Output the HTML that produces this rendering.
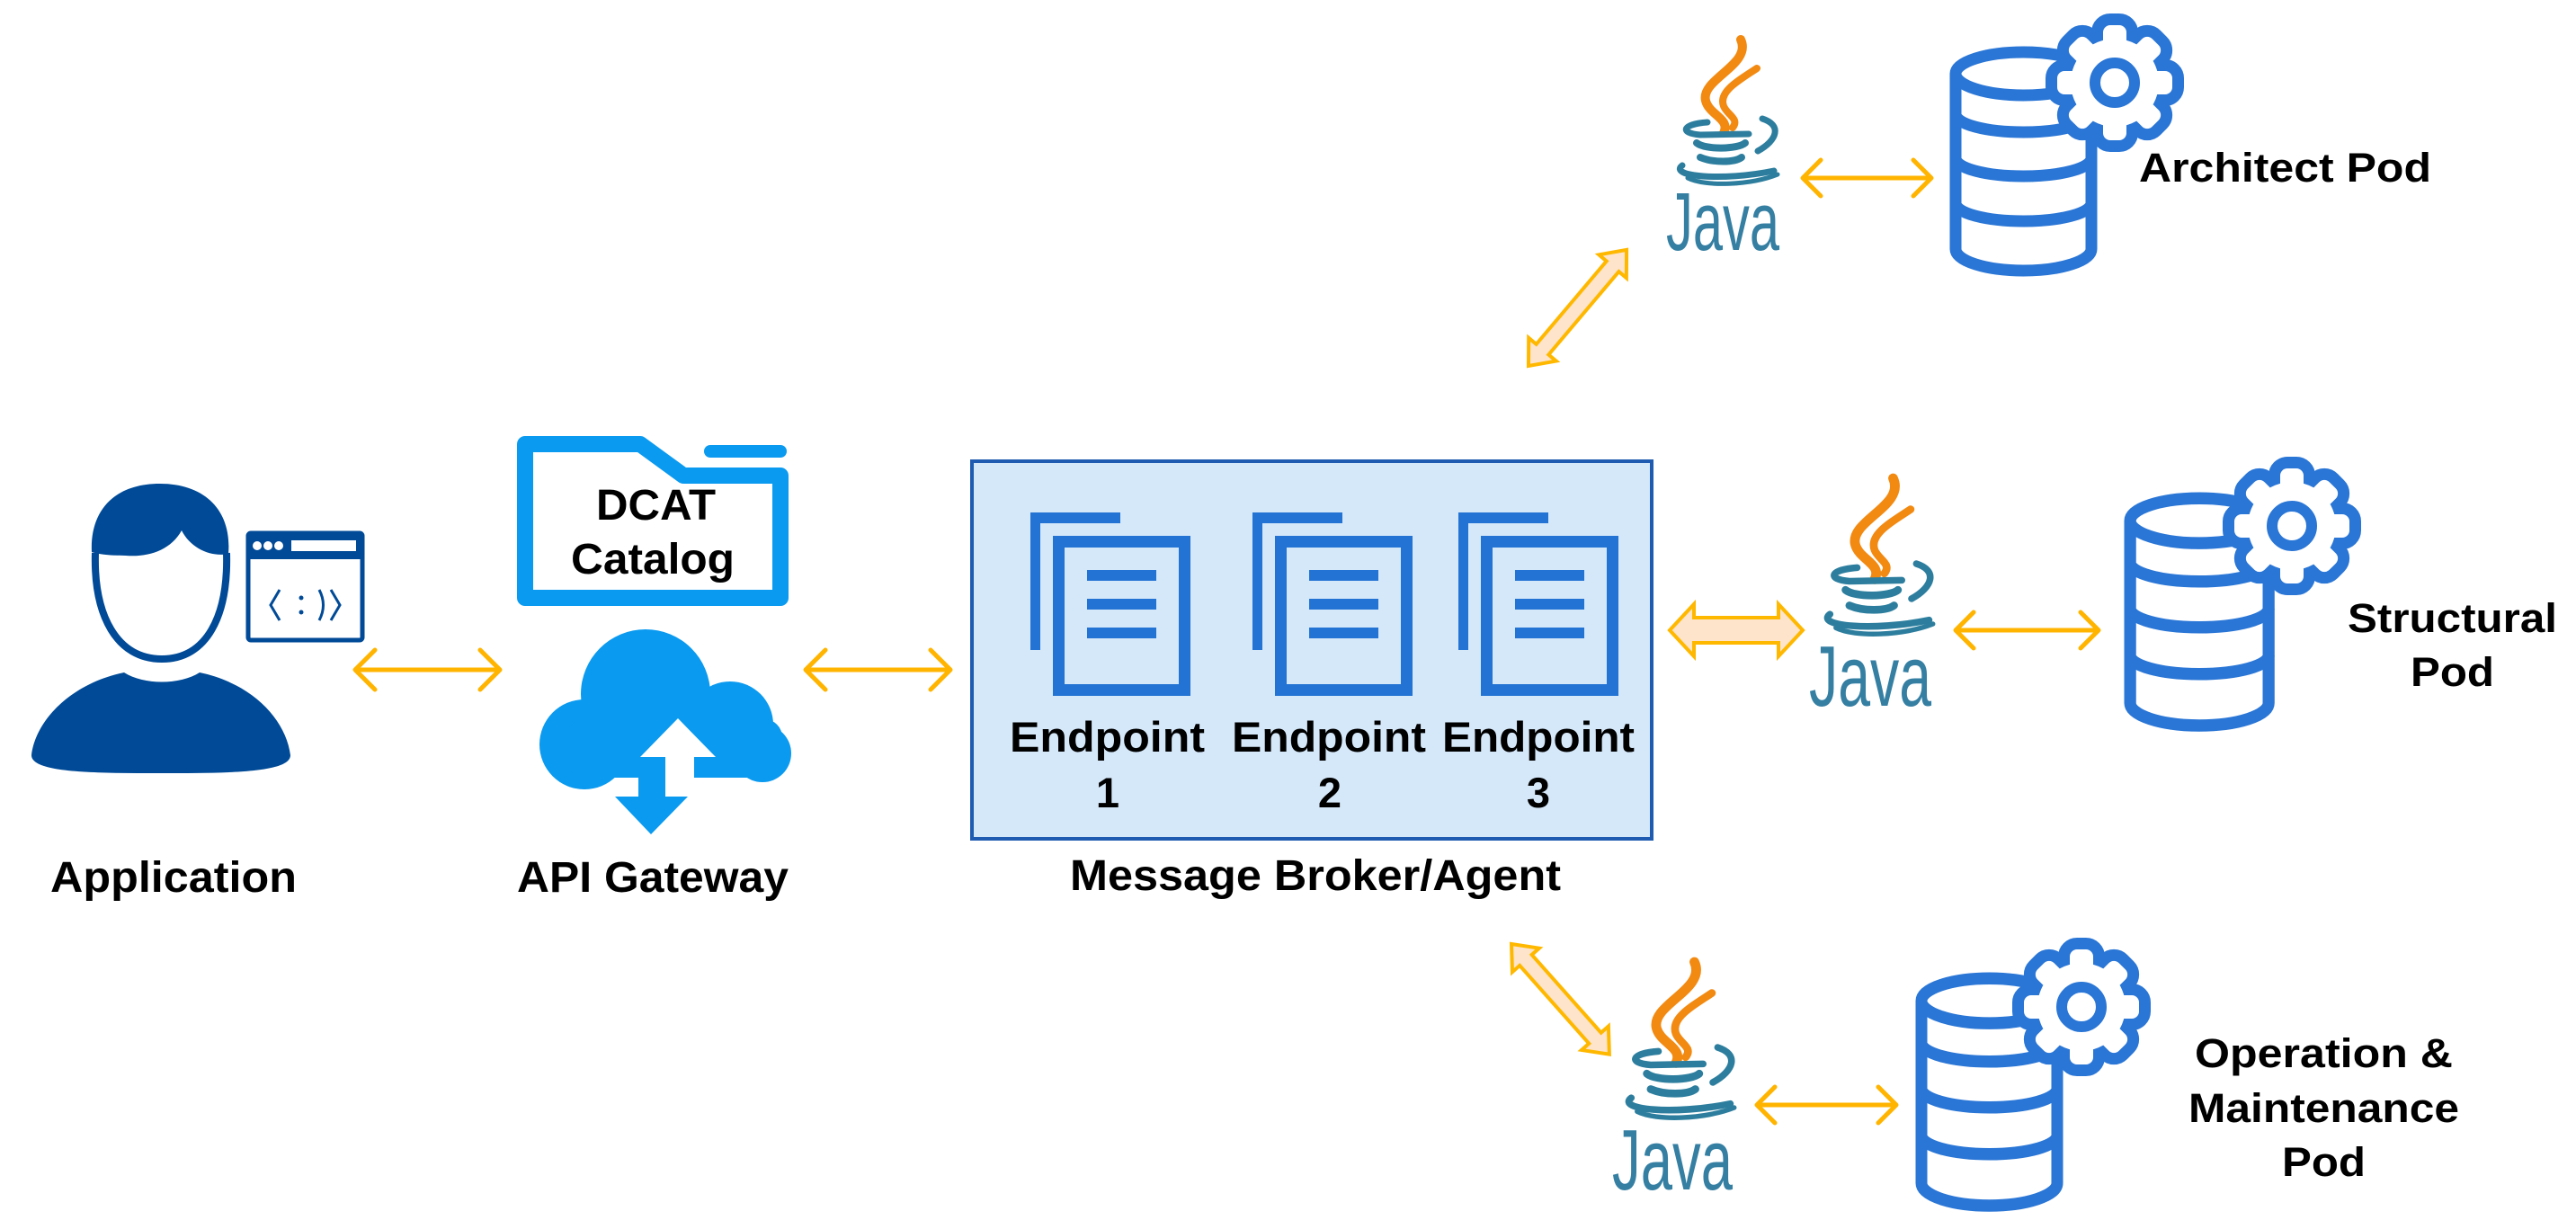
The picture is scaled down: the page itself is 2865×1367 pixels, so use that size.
<!DOCTYPE html>
<html><head><meta charset="utf-8"><style>
html,body{margin:0;padding:0;background:#fff;}
svg{display:block;}
text{font-family:"Liberation Sans",Arial,sans-serif;font-weight:bold;fill:#000;}
.jt{font-family:"Liberation Sans Narrow","Liberation Sans",sans-serif;font-weight:normal;fill:#357fa3;}
</style></head><body>
<svg width="2865" height="1367" viewBox="0 0 2865 1367" xmlns="http://www.w3.org/2000/svg">
<defs>
  <g id="jv" fill="none" stroke-linecap="round">
    <path d="M81,0 C94,28 36,44 42,68 C46,84 70,88 62,104" stroke="#f28a12" stroke-width="10"/>
    <path d="M99,32 C78,46 56,58 62,74 C66,84 80,88 72,98" stroke="#f28a12" stroke-width="8"/>
    <path d="M44,92 C16,94 12,104 36,106 L90,105" stroke="#2d7e9e" stroke-width="7"/>
    <path d="M105,88 C127,95 122,112 100,124" stroke="#2d7e9e" stroke-width="7"/>
    <path d="M32,115 C42,123 78,122 86,115" stroke="#2d7e9e" stroke-width="8"/>
    <path d="M36,131 C50,137 74,137 82,131" stroke="#2d7e9e" stroke-width="8"/>
    <path d="M16,140 C0,152 60,158 118,146" stroke="#2d7e9e" stroke-width="7"/>
    <path d="M22,154 C42,164 92,162 122,150" stroke="#2d7e9e" stroke-width="5"/>
  </g>
  <g id="gear">
    <g stroke="#2a76d6" stroke-width="26" stroke-linejoin="round" fill="#2a76d6">
      <circle cx="0" cy="0" r="49"/>
      <rect x="-13" y="-64" width="26" height="32" rx="8"/>
      <rect x="-13" y="-64" width="26" height="32" rx="8" transform="rotate(45)"/>
      <rect x="-13" y="-64" width="26" height="32" rx="8" transform="rotate(90)"/>
      <rect x="-13" y="-64" width="26" height="32" rx="8" transform="rotate(135)"/>
      <rect x="-13" y="-64" width="26" height="32" rx="8" transform="rotate(180)"/>
      <rect x="-13" y="-64" width="26" height="32" rx="8" transform="rotate(225)"/>
      <rect x="-13" y="-64" width="26" height="32" rx="8" transform="rotate(270)"/>
      <rect x="-13" y="-64" width="26" height="32" rx="8" transform="rotate(315)"/>
    </g>
    <g fill="#fff">
      <circle cx="0" cy="0" r="49"/>
      <rect x="-13" y="-64" width="26" height="32" rx="8"/>
      <rect x="-13" y="-64" width="26" height="32" rx="8" transform="rotate(45)"/>
      <rect x="-13" y="-64" width="26" height="32" rx="8" transform="rotate(90)"/>
      <rect x="-13" y="-64" width="26" height="32" rx="8" transform="rotate(135)"/>
      <rect x="-13" y="-64" width="26" height="32" rx="8" transform="rotate(180)"/>
      <rect x="-13" y="-64" width="26" height="32" rx="8" transform="rotate(225)"/>
      <rect x="-13" y="-64" width="26" height="32" rx="8" transform="rotate(270)"/>
      <rect x="-13" y="-64" width="26" height="32" rx="8" transform="rotate(315)"/>
    </g>
    <circle cx="0" cy="0" r="22" fill="none" stroke="#2a76d6" stroke-width="12"/>
  </g>
  <g id="db" fill="none" stroke="#2a76d6" stroke-width="13">
    <path d="M6,30 V225 A75.5,24 0 0 0 157,225 V30" fill="#fff"/>
    <ellipse cx="81.5" cy="30" rx="75.5" ry="24" fill="#fff"/>
    <path d="M6,75 A75.5,20 0 0 0 157,75"/>
    <path d="M6,124 A75.5,20 0 0 0 157,124"/>
    <path d="M6,174 A75.5,20 0 0 0 157,174"/>
  </g>
  <g id="doc" fill="#2273d3">
    <rect x="0" y="0" width="100" height="12"/>
    <rect x="0" y="0" width="11" height="153"/>
    <rect x="31.5" y="32.5" width="140" height="165" fill="none" stroke="#2273d3" stroke-width="13"/>
    <rect x="63" y="64" width="77" height="12"/>
    <rect x="63" y="96" width="77" height="12"/>
    <rect x="63" y="128" width="77" height="12"/>
  </g>
</defs>

<!-- Application person -->
<path d="M35,840 C40,800 80,760 138,748 C160,762 200,762 222,748 C280,760 318,800 323,840 C323,860 250,860 179,860 C108,860 35,860 35,840 Z" fill="#004a97"/>
<path d="M106,615 C104,685 130,733 180,733 C230,733 254,685 252,615" fill="#fff" stroke="#004a97" stroke-width="8"/>
<path d="M102,614 C100,570 125,538 178,538 C228,538 258,568 254,616 C235,620 212,610 202,590 C190,612 165,620 140,618 C120,618 108,616 102,614 Z" fill="#004a97"/>
<!-- browser -->
<rect x="276" y="593" width="127" height="119" fill="#fff" stroke="#004a97" stroke-width="5" rx="3"/>
<rect x="276" y="593" width="127" height="29" fill="#004a97"/>
<circle cx="286" cy="607" r="5" fill="#fff"/><circle cx="298" cy="607" r="5" fill="#fff"/><circle cx="310" cy="607" r="5" fill="#fff"/>
<rect x="324" y="601" width="72" height="12" fill="#fff"/>
<path d="M311,656 L301,673 L311,690 M368,656 L378,673 L368,690 M355,656 Q364,673 355,690" fill="none" stroke="#004a97" stroke-width="3"/>
<circle cx="335" cy="665" r="2.5" fill="#004a97"/><circle cx="335" cy="681" r="2.5" fill="#004a97"/>

<!-- folder -->
<path d="M584,494 H712 L760,529 H868 V665 H584 Z" fill="#fff" stroke="#0a9af0" stroke-width="18" stroke-linejoin="round"/>
<path d="M790,502 H868" stroke="#0a9af0" stroke-width="14" stroke-linecap="round"/>
<text x="663" y="578" font-size="48" textLength="133" lengthAdjust="spacingAndGlyphs">DCAT</text>
<text x="635" y="638" font-size="48" textLength="182" lengthAdjust="spacingAndGlyphs">Catalog</text>

<!-- cloud -->
<g fill="#0a9af0">
  <circle cx="718" cy="772" r="72"/>
  <circle cx="812" cy="806" r="48"/>
  <circle cx="848" cy="838" r="32"/>
  <circle cx="650" cy="828" r="50"/>
  <rect x="630" y="800" width="240" height="65" rx="20"/>
  <rect x="646" y="790" width="200" height="75"/>
  <rect x="710" y="860" width="30" height="28"/>
  <polygon points="684,886 765,886 724,928"/>
</g>
<g fill="#fff">
  <polygon points="754,799 712,842 796,842"/>
  <rect x="740" y="840" width="32" height="26"/>
</g>

<!-- broker box -->
<rect x="1081" y="513" width="756" height="420" fill="#d5e8fa" stroke="#1f5bb0" stroke-width="4"/>
<use href="#doc" x="1146" y="570"/>
<use href="#doc" x="1393" y="570"/>
<use href="#doc" x="1622" y="570"/>
<text x="1123" y="836" font-size="47" textLength="217" lengthAdjust="spacingAndGlyphs">Endpoint</text>
<text x="1370" y="836" font-size="47" textLength="216" lengthAdjust="spacingAndGlyphs">Endpoint</text>
<text x="1604" y="836" font-size="47" textLength="214" lengthAdjust="spacingAndGlyphs">Endpoint</text>
<text x="1232" y="898" font-size="47" text-anchor="middle">1</text>
<text x="1479" y="898" font-size="47" text-anchor="middle">2</text>
<text x="1711" y="898" font-size="47" text-anchor="middle">3</text>

<!-- labels -->
<text x="56" y="992" font-size="48" textLength="274" lengthAdjust="spacingAndGlyphs">Application</text>
<text x="575" y="992" font-size="48" textLength="302" lengthAdjust="spacingAndGlyphs">API Gateway</text>
<text x="1190" y="990" font-size="48" textLength="546" lengthAdjust="spacingAndGlyphs">Message Broker/Agent</text>
<text x="2379" y="202" font-size="45" textLength="325" lengthAdjust="spacingAndGlyphs">Architect Pod</text>
<text x="2611" y="703" font-size="45" textLength="233" lengthAdjust="spacingAndGlyphs">Structural</text>
<text x="2681" y="763" font-size="45" textLength="93" lengthAdjust="spacingAndGlyphs">Pod</text>
<text x="2441" y="1187" font-size="45" textLength="287" lengthAdjust="spacingAndGlyphs">Operation &amp;</text>
<text x="2434" y="1248" font-size="45" textLength="301" lengthAdjust="spacingAndGlyphs">Maintenance</text>
<text x="2538" y="1308" font-size="45" textLength="93" lengthAdjust="spacingAndGlyphs">Pod</text>

<!-- thin arrows -->
<g fill="none" stroke="#ffb400" stroke-width="5" stroke-linecap="round" stroke-linejoin="round">
  <path d="M395,745 H556 M417,723 L395,745 L417,767 M534,723 L556,745 L534,767"/>
  <path d="M896,745 H1057 M918,723 L896,745 L918,767 M1035,723 L1057,745 L1035,767"/>
  <path d="M2005,198 H2148 M2025,178 L2005,198 L2025,218 M2128,178 L2148,198 L2128,218"/>
  <path d="M2175,701 H2334 M2195,681 L2175,701 L2195,721 M2314,681 L2334,701 L2314,721"/>
  <path d="M1954,1229 H2109 M1974,1209 L1954,1229 L1974,1249 M2089,1209 L2109,1229 L2089,1249"/>
</g>

<!-- fat arrows -->
<g fill="#fde4cb" stroke="#ffb800" stroke-width="4" stroke-linejoin="miter">
  <polygon points="1857,701 1884,672 1884,687 1978,687 1978,672 2005,701 1978,730 1978,715 1884,715 1884,730"/>
  <g transform="translate(1700,407) rotate(-49.8)">
    <polygon points="0,0 24,-20 24,-9 145,-9 145,-20 169,0 145,20 145,9 24,9 24,20"/>
  </g>
  <g transform="translate(1681,1050) rotate(48.4)">
    <polygon points="0,0 24,-20 24,-9 140,-9 140,-20 164,0 140,20 140,9 24,9 24,20"/>
  </g>
</g>

<!-- Java logos -->
<use href="#jv" transform="translate(1855,44)"/>
<text class="jt" x="1853" y="278" font-size="92" textLength="126" lengthAdjust="spacingAndGlyphs">Java</text>
<use href="#jv" transform="translate(2018,532) scale(1.08)"/>
<text class="jt" x="2012" y="785" font-size="96" textLength="136" lengthAdjust="spacingAndGlyphs">Java</text>
<use href="#jv" transform="translate(1797,1070) scale(1.08)"/>
<text class="jt" x="1793" y="1323" font-size="96" textLength="134" lengthAdjust="spacingAndGlyphs">Java</text>

<!-- databases + gears -->
<use href="#db" transform="translate(2169,52)"/>
<use href="#gear" transform="translate(2352,92)"/>
<use href="#db" transform="translate(2363,548) scale(1.02,1.04)"/>
<use href="#gear" transform="translate(2549,585)"/>
<use href="#db" transform="translate(2131,1082) scale(1,1.04)"/>
<use href="#gear" transform="translate(2315,1120)"/>
</svg>
</body></html>
